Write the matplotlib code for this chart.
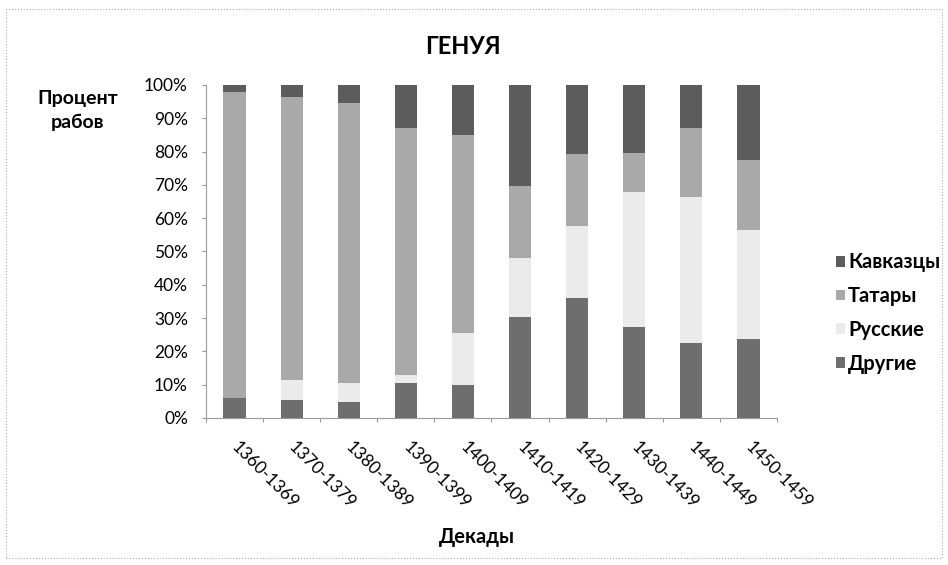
import numpy as np
import matplotlib.pyplot as plt
import matplotlib.transforms as mtransforms
from matplotlib.patches import Rectangle

plt.rcParams['font.family'] = ['Lato', 'Open Sans', 'DejaVu Sans']

# Data (percent of slaves per decade)
decades = ['1360-1369', '1370-1379', '1380-1389', '1390-1399', '1400-1409',
           '1410-1419', '1420-1429', '1430-1439', '1440-1449', '1450-1459']
drugie = [6, 5.5, 4.8, 10.5, 9.8, 30.2, 36, 27.3, 22.5, 23.8]
russkie = [0, 6, 5.7, 2.5, 15.7, 17.8, 21.8, 40.7, 44, 32.7]
tatary = [92, 85, 84, 74, 59.5, 21.8, 21.4, 11.7, 20.5, 21]
kavkaz = [2, 3.5, 5.5, 13, 15, 30.2, 20.8, 20.3, 13, 22.5]

series = [('Другие', drugie, '#6e6e6e'),
          ('Русские', russkie, '#ebebeb'),
          ('Татары', tatary, '#a9a9a9'),
          ('Кавказцы', kavkaz, '#5c5c5c')]

fig = plt.figure(figsize=(9.48, 5.65), dpi=100)
ax = fig.add_axes([0.2173, 0.2602, 0.6023, 0.5894])

x = np.arange(len(decades))
bottom = np.zeros(len(decades))
handles = []
for name, vals, col in series:
    b = ax.bar(x, vals, 0.39, bottom=bottom, color=col, label=name)
    handles.append(b)
    bottom += np.array(vals)

ax.set_xlim(-0.5, len(decades) - 0.5)
ax.set_ylim(0, 100)
ax.set_yticks(np.arange(0, 101, 10))
ax.set_yticklabels([f'{v}%' for v in range(0, 101, 10)], fontsize=12.5)
ax.set_xticks(np.arange(-0.5, len(decades), 1))
ax.set_xticklabels([])
ax.tick_params(axis='both', color='#999999', length=3, width=0.8)
ax.tick_params(axis='y', pad=10)

# category labels, rotated
offset = mtransforms.ScaledTranslation(4 / 72, -15 / 72, fig.dpi_scale_trans)
for i, lab in enumerate(decades):
    ax.text(i, 0, lab, rotation=-45, rotation_mode='anchor', ha='left', va='top',
            fontsize=12.5, transform=ax.get_xaxis_transform() + offset)

for s in ['top', 'right']:
    ax.spines[s].set_visible(False)
for s in ['left', 'bottom']:
    ax.spines[s].set_color('#999999')
    ax.spines[s].set_linewidth(0.8)

fig.text(0.488, 0.917, 'ГЕНУЯ', ha='center', va='center', fontsize=17, fontweight='bold')
fig.text(0.082, 0.805, 'Процент\nрабов', ha='center', va='center', fontsize=14,
         fontweight='bold', linespacing=1.45)
fig.text(0.503, 0.05, 'Декады', ha='center', va='center', fontsize=14.5, fontweight='bold')

leg = fig.legend(handles[::-1], [s[0] for s in series][::-1], loc='center left',
                 bbox_to_anchor=(0.882, 0.446), frameon=False, fontsize=14.5,
                 handlelength=0.45, handleheight=0.45, handletextpad=0.15, labelspacing=0.68,
                 borderaxespad=0, borderpad=0)
for t in leg.get_texts():
    t.set_fontweight('bold')

fig.patches.append(Rectangle((0.006, 0.012), 0.988, 0.972, transform=fig.transFigure,
                             fill=False, edgecolor='#aaaaaa', linewidth=0.8, linestyle=':'))

fig.savefig('out.png', dpi=100)
